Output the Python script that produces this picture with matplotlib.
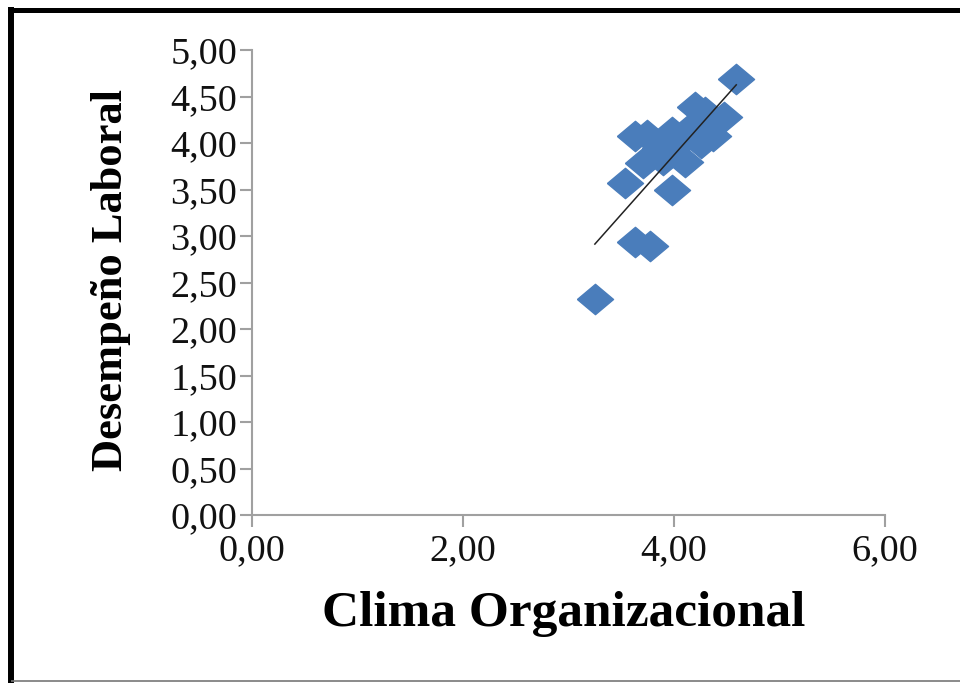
import matplotlib
matplotlib.use("Agg")
import matplotlib.pyplot as plt
import numpy as np
from matplotlib.lines import Line2D
from matplotlib.ticker import FuncFormatter, MultipleLocator

# Survey averages per respondent
clima = [4.59, 3.25, 3.63, 3.77, 3.54, 3.98, 3.63, 3.74, 3.98, 4.20,
         4.47, 4.37, 3.71, 4.10, 4.29, 3.87, 4.05, 4.18, 3.90, 4.26]
desempeno = [4.69, 2.32, 2.94, 2.89, 3.57, 3.49, 4.08, 4.09, 4.12, 4.39,
             4.28, 4.08, 3.78, 3.80, 4.33, 3.95, 4.00, 4.18, 3.82, 4.00]

x_label = "Clima Organizacional"
y_label = "Desempeño Laboral"

W, H = 960, 683
fig = plt.figure(figsize=(W / 100, H / 100), dpi=100)
ax = fig.add_axes([252 / W, 1 - 515 / H, (885 - 252) / W, (515 - 50) / H])

# Diamond marker, slightly wider than tall
diamond = [(-1, 0), (0, 0.84), (1, 0), (0, -0.84), (-1, 0)]
ax.plot(clima, desempeno, linestyle="none", marker=diamond, markersize=26,
        color="#4A7DBB", markeredgecolor="#4A7DBB", zorder=2)

# Linear trend line across the observed range
slope, intercept = np.polyfit(clima, desempeno, 1)
xs = np.array([min(clima), max(clima)])
ax.plot(xs, slope * xs + intercept, color="#222222", linewidth=1.1, zorder=3)

ax.set_xlim(0, 6)
ax.set_ylim(0, 5)
ax.xaxis.set_major_locator(MultipleLocator(2))
ax.yaxis.set_major_locator(MultipleLocator(0.5))
fmt = FuncFormatter(lambda v, p: f"{v:.2f}".replace(".", ","))
ax.xaxis.set_major_formatter(fmt)
ax.yaxis.set_major_formatter(fmt)

for side in ("top", "right"):
    ax.spines[side].set_visible(False)
for side in ("left", "bottom"):
    ax.spines[side].set_color("#A0A0A0")
    ax.spines[side].set_linewidth(1.5)
ax.tick_params(axis="both", direction="out", length=8.5, width=1.5,
               color="#A0A0A0", labelsize=27.5, labelcolor="#111111")
ax.tick_params(axis="y", pad=2)
ax.tick_params(axis="x", pad=5)
for lab in ax.get_xticklabels() + ax.get_yticklabels():
    lab.set_fontfamily("Liberation Serif")

ax.set_xlabel(x_label, fontfamily="Liberation Serif", fontweight="bold",
              fontsize=37, color="black")
ax.set_ylabel(y_label, fontfamily="Liberation Serif", fontweight="bold",
              fontsize=32, color="black")
ax.xaxis.label.set_va("center")
ax.yaxis.label.set_va("center")
ax.xaxis.set_label_coords(0.493, -0.212)
ax.yaxis.set_label_coords(-0.222, 0.505)

# Outer frame
px = 1 / W
py = 1 / H
fig.add_artist(Line2D([11 * px, 11 * px], [0, 1 - 7 * py], color="black",
                      linewidth=4.3, solid_capstyle="butt"))
fig.add_artist(Line2D([8 * px, 1], [1 - 9.5 * py, 1 - 9.5 * py], color="black",
                      linewidth=3.6, solid_capstyle="butt"))
fig.add_artist(Line2D([11 * px, 1], [2 * py, 2 * py], color="#777777",
                      linewidth=1.2, solid_capstyle="butt"))

fig.savefig("out.png", dpi=100, facecolor="white")
